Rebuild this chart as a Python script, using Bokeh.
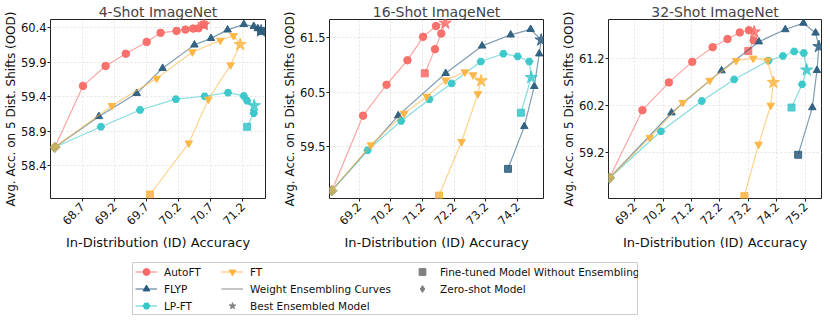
import math
from bokeh.plotting import figure
from bokeh.layouts import row, column
from bokeh.models import Range1d, FixedTicker, PrintfTickFormatter, Legend, LegendItem
from bokeh.embed import file_html
from bokeh.resources import INLINE

FONT = "DejaVu Sans"
NAN = float("nan")

METHODS = ["AutoFT", "FLYP", "LP-FT", "FT"]
COLORS = {"AutoFT": "#f96a66", "FLYP": "#2c5d7e", "LP-FT": "#36c6c9", "FT": "#fdb440"}
MARKERS = {"AutoFT": "circle", "FLYP": "triangle", "LP-FT": "hex", "FT": "inverted_triangle"}
GREY = "#808080"

TITLES = ["4-Shot ImageNet", "16-Shot ImageNet", "32-Shot ImageNet"]

# ---- axis ticks ----
X_TICKS_4 = [68.7, 69.2, 69.7, 70.2, 70.7, 71.2]
Y_TICKS_4 = [58.4, 58.9, 59.4, 59.9, 60.4]
X_TICKS_16 = [69.2, 70.2, 71.2, 72.2, 73.2, 74.2]
Y_TICKS_16 = [59.5, 60.5, 61.5]
X_TICKS_32 = [69.2, 70.2, 71.2, 72.2, 73.2, 74.2, 75.2]
Y_TICKS_32 = [59.2, 60.2, 61.2]

# ---- zero-shot model (start of every curve) ----
ZS_X = [68.271, 68.34, 68.319]
ZS_Y = [58.665, 58.694, 58.654]

# ---- 4-shot: weight-ensembling curves (last point = fine-tuned model), BEST = index of best ensemble ----
AUTOFT_4_X = [68.71, 69.062, 69.377, 69.702, 69.919, 70.167, 70.306, 70.425, 70.508, 70.591]
AUTOFT_4_Y = [59.558, 59.847, 60.026, 60.197, 60.329, 60.357, 60.376, 60.391, 60.395, 60.447]
AUTOFT_4_BEST = 9
FLYP_4_X = [68.958, 69.547, 69.95, 70.446, 70.704, 70.962, 71.215, 71.37, 71.432, 71.484]
FLYP_4_Y = [59.114, 59.45, 59.814, 60.154, 60.249, 60.372, 60.452, 60.424, 60.391, 60.357]
FLYP_4_BEST = 9
LPFT_4_X = [68.989, 69.599, 70.157, 70.606, 70.968, 71.215, 71.267, 71.376, 71.37, 71.267]
LPFT_4_Y = [58.963, 59.208, 59.365, 59.407, 59.459, 59.412, 59.341, 59.27, 59.161, 58.963]
LPFT_4_BEST = 7
FT_4_X = [69.16, 69.857, 70.415, 70.849, 71.055, 71.159, 71.009, 70.663, 70.358, 69.754]
FT_4_Y = [59.27, 59.667, 60.05, 60.22, 60.287, 60.159, 59.861, 59.364, 58.726, 57.979]
FT_4_BEST = 5

# ---- 16-shot ----
AUTOFT_16_X = [69.325, 70.065, 70.724, 71.217, 71.625, 71.917, 71.791, 71.593, 71.27]
AUTOFT_16_Y = [60.071, 60.638, 61.087, 61.518, 61.715, 61.769, 61.579, 61.292, 60.848]
AUTOFT_16_BEST = 5
FLYP_16_X = [70.432, 71.929, 73.077, 73.978, 74.606, 74.941, 74.879, 74.722, 74.408, 73.893]
FLYP_16_Y = [60.071, 60.848, 61.351, 61.554, 61.656, 61.459, 61.207, 60.609, 59.873, 59.094]
FLYP_16_BEST = 5
LPFT_16_X = [69.469, 70.526, 71.414, 72.117, 73.037, 73.749, 74.198, 74.565, 74.627, 74.301]
LPFT_16_Y = [59.435, 59.974, 60.369, 60.663, 61.064, 61.207, 61.159, 61.064, 60.771, 60.125]
LPFT_16_BEST = 8
FT_16_X = [69.576, 70.621, 71.333, 71.929, 72.535, 72.795, 73.046, 72.943, 72.431, 71.719]
FT_16_Y = [59.532, 60.112, 60.423, 60.723, 60.872, 60.818, 60.71, 60.471, 59.592, 58.604]
FT_16_BEST = 6

# ---- 32-shot ----
AUTOFT_32_X = [69.476, 70.404, 71.227, 71.943, 72.464, 72.895, 73.218, 73.402, 73.381, 73.194]
AUTOFT_32_Y = [60.104, 60.698, 61.137, 61.451, 61.625, 61.765, 61.813, 61.777, 61.597, 61.367]
AUTOFT_32_BEST = 7
FLYP_32_X = [70.497, 72.256, 73.566, 74.493, 75.129, 75.556, 75.675, 75.605, 75.442, 74.945]
FLYP_32_Y = [60.049, 60.949, 61.568, 61.828, 61.966, 61.756, 61.464, 60.955, 60.16, 59.15]
FLYP_32_BEST = 6
LPFT_32_X = [70.126, 71.561, 72.697, 73.903, 74.41, 74.806, 75.14, 75.244, 75.084, 74.712]
LPFT_32_Y = [59.652, 60.3, 60.761, 61.164, 61.263, 61.359, 61.326, 60.962, 60.656, 60.16]
LPFT_32_BEST = 7
FT_32_X = [69.733, 70.89, 71.839, 72.766, 73.367, 73.868, 74.076, 73.982, 73.555, 73.055]
FT_32_Y = [59.518, 60.265, 60.74, 61.164, 61.213, 61.171, 60.698, 60.208, 59.372, 58.271]
FT_32_BEST = 6

PANELS = [
    dict(title=TITLES[0], xr=(68.204, 71.553), yr=(57.921, 60.523), xt=X_TICKS_4, yt=Y_TICKS_4,
         zs=(ZS_X[0], ZS_Y[0]),
         curves={"AutoFT": (AUTOFT_4_X, AUTOFT_4_Y, AUTOFT_4_BEST), "FLYP": (FLYP_4_X, FLYP_4_Y, FLYP_4_BEST),
                 "LP-FT": (LPFT_4_X, LPFT_4_Y, LPFT_4_BEST), "FT": (FT_4_X, FT_4_Y, FT_4_BEST)},
         width=270, bl=50, br=5),
    dict(title=TITLES[1], xr=(68.267, 75.013), yr=(58.55, 61.836), xt=X_TICKS_16, yt=Y_TICKS_16,
         zs=(ZS_X[1], ZS_Y[1]),
         curves={"AutoFT": (AUTOFT_16_X, AUTOFT_16_Y, AUTOFT_16_BEST), "FLYP": (FLYP_16_X, FLYP_16_Y, FLYP_16_BEST),
                 "LP-FT": (LPFT_16_X, LPFT_16_Y, LPFT_16_BEST), "FT": (FT_16_X, FT_16_Y, FT_16_BEST)},
         width=280, bl=59, br=7),
    dict(title=TITLES[2], xr=(68.284, 75.765), yr=(58.215, 62.043), xt=X_TICKS_32, yt=Y_TICKS_32,
         zs=(ZS_X[2], ZS_Y[2]),
         curves={"AutoFT": (AUTOFT_32_X, AUTOFT_32_Y, AUTOFT_32_BEST), "FLYP": (FLYP_32_X, FLYP_32_Y, FLYP_32_BEST),
                 "LP-FT": (LPFT_32_X, LPFT_32_Y, LPFT_32_BEST), "FT": (FT_32_X, FT_32_Y, FT_32_BEST)},
         width=272, bl=58, br=1),
]


def make_panel(cfg):
    p = figure(width=cfg["width"], height=252, x_range=Range1d(*cfg["xr"]), y_range=Range1d(*cfg["yr"]),
               output_backend="svg", toolbar_location=None, title=cfg["title"],
               min_border_left=cfg["bl"], min_border_right=cfg["br"], min_border_top=19, min_border_bottom=50)
    p.title.text_font = FONT
    p.title.text_font_size = "14px"
    p.title.text_font_style = "normal"
    p.title.align = "center"
    p.title.standoff = 0
    p.outline_line_color = "#222222"
    p.outline_line_width = 1
    p.background_fill_color = "white"
    p.border_fill_color = "white"

    p.xaxis.ticker = FixedTicker(ticks=cfg["xt"])
    p.yaxis.ticker = FixedTicker(ticks=cfg["yt"])
    p.xaxis.formatter = PrintfTickFormatter(format="%.1f")
    p.yaxis.formatter = PrintfTickFormatter(format="%.1f")
    p.xaxis.axis_label = "In-Distribution (ID) Accuracy"
    p.yaxis.axis_label = "Avg. Acc. on 5 Dist. Shifts (OOD)"
    p.xaxis.major_label_orientation = math.pi / 4
    for ax in (p.xaxis[0], p.yaxis[0]):
        ax.axis_line_color = None
        ax.major_tick_line_color = "#222222"
        ax.major_tick_out = 3
        ax.major_tick_in = 0
        ax.minor_tick_line_color = None
        ax.major_label_text_font = FONT
        ax.major_label_text_font_size = "11.5px"
        ax.major_label_text_color = "#111111"
        ax.axis_label_text_font = FONT
        ax.axis_label_text_font_style = "normal"
        ax.axis_label_text_color = "#111111"
    p.yaxis.major_label_standoff = 1
    p.yaxis.axis_label_standoff = 0
    p.xaxis.major_label_standoff = 3
    p.xaxis.axis_label_standoff = 3
    p.xaxis.axis_label_text_font_size = "13px"
    p.yaxis.axis_label_text_font_size = "12px"
    for g in (p.xgrid[0], p.ygrid[0]):
        g.grid_line_color = "#dedede"
        g.grid_line_dash = "2 2"
        g.grid_line_width = 0.8

    zx, zy = cfg["zs"]
    for m in METHODS:
        cx, cy, b = cfg["curves"][m]
        c = COLORS[m]
        p.line([zx] + cx, [zy] + cy, line_color=c, line_alpha=0.6, line_width=1.2)
        mid = [i for i in range(len(cx) - 1) if i != b]
        p.scatter([cx[i] for i in mid], [cy[i] for i in mid], marker=MARKERS[m], size=7.5,
                  fill_color=c, line_color=c, alpha=0.95)
        p.scatter([cx[-1]], [cy[-1]], marker="square", size=7, fill_color=c, line_color=c, alpha=0.85)
        p.scatter([cx[b]], [cy[b]], marker="star", size=13, fill_color=c, line_color=c, alpha=0.8)
        p.scatter([zx], [zy], marker="square", angle=math.pi / 4, size=7, fill_color=c, line_color=c, alpha=0.65)
    return p


panels = [make_panel(c) for c in PANELS]

# ---- legend figure: the frame outline is the legend box ----
lf = figure(width=638, height=63, x_axis_type=None, y_axis_type=None, toolbar_location=None,
            output_backend="svg", min_border_left=132, min_border_top=10, min_border_right=0, min_border_bottom=0,
            x_range=Range1d(0, 1), y_range=Range1d(0, 1))
lf.outline_line_color = "#cccccc"
lf.outline_line_width = 1
lf.border_fill_color = "white"


def leg_renderers(color, marker=None, line=True, size=7.5, angle=0.0):
    rs = []
    if line:
        rs.append(lf.line([NAN], [NAN], line_color=color, line_width=1.2, line_alpha=0.75))
    if marker:
        rs.append(lf.scatter([NAN], [NAN], marker=marker, size=size, angle=angle, fill_color=color, line_color=color))
    return rs


def make_legend(items, loc):
    leg = Legend(items=items, location=loc, padding=0, margin=0, spacing=0,
                 glyph_width=22, glyph_height=17, label_height=17, label_standoff=7,
                 border_line_alpha=0, background_fill_alpha=0,
                 label_text_font=FONT, label_text_font_size="10.5px", label_text_color="#111111")
    lf.add_layout(leg)
    return leg


make_legend([LegendItem(label=m, renderers=leg_renderers(COLORS[m], MARKERS[m])) for m in ["AutoFT", "FLYP", "LP-FT"]],
            (3, 1))
make_legend([
    LegendItem(label="FT", renderers=leg_renderers(COLORS["FT"], MARKERS["FT"])),
    LegendItem(label="Weight Ensembling Curves", renderers=leg_renderers(GREY)),
    LegendItem(label="Best Ensembled Model", renderers=leg_renderers(GREY, "star", line=False, size=12)),
], (89, 1))
make_legend([
    LegendItem(label="Fine-tuned Model Without Ensembling", renderers=leg_renderers(GREY, "square", line=False, size=8)),
    LegendItem(label="Zero-shot Model", renderers=leg_renderers(GREY, "diamond", line=False, size=12)),
], (279, 18))

layout = column(row(*panels), lf)

open("out.html", "w").write(file_html(layout, INLINE))
